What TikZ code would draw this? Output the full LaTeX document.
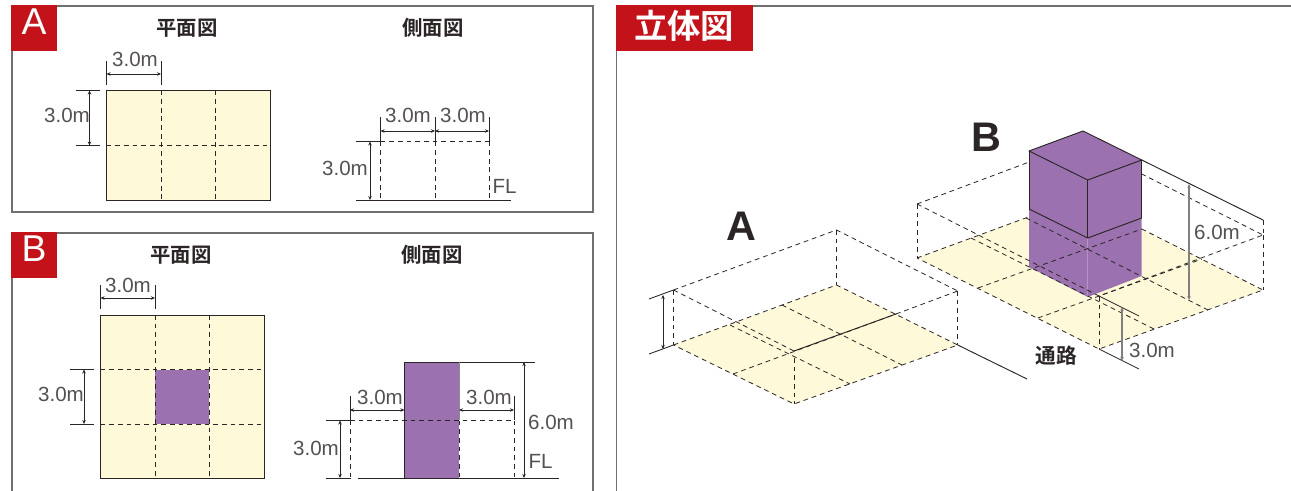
\documentclass[tikz,border=0pt]{standalone}
\usepackage{fontspec}
\setmainfont{Liberation Sans}
\newfontfamily\jpfont{Noto Sans CJK JP}[BoldFont={Noto Sans CJK JP Bold}]
\usetikzlibrary{arrows.meta}
\definecolor{tagred}{HTML}{C4121A}
\definecolor{floorcol}{HTML}{FEF9D8}
\definecolor{purp}{HTML}{9B72AF}
\definecolor{ink}{HTML}{2B2526}
\definecolor{framecol}{HTML}{707070}
\tikzset{
  frameline/.style={draw=framecol,line width=0.85pt},
  tag/.style={fill=tagred,draw=none},
  solidline/.style={draw=ink,line width=0.7pt},
  dashline/.style={draw=ink,line width=0.75pt,dash pattern=on 3.6pt off 2.9pt},
  isodash/.style={draw=ink,line width=0.6pt,dash pattern=on 3.6pt off 2.9pt},
  tick/.style={draw=ink,line width=0.65pt},
  dimarrow/.style={draw=ink,line width=0.65pt,{Stealth[length=3pt,width=2.6pt]}-{Stealth[length=3pt,width=2.6pt]}},
  greyarrow/.style={draw=black!50,line width=0.8pt,{Stealth[length=3pt,width=2.6pt]}-{Stealth[length=3pt,width=2.6pt]}},
  dimtext/.style={inner sep=0pt,text=ink!80,font=\fontsize{15.4}{16}\selectfont},
  title/.style={inner sep=0pt,text=ink,font=\jpfont\bfseries\fontsize{15.3}{16}\selectfont},
  taglabel/.style={inner sep=0pt,text=white,font=\fontsize{28}{30}\selectfont},
  isolabel/.style={inner sep=0pt,text=ink,font=\bfseries\fontsize{31}{32}\selectfont},
}
\begin{document}
\begin{tikzpicture}[x=0.75pt,y=-0.75pt]
\useasboundingbox (0,0) rectangle (1291,491);
\fill[white] (0,0) rectangle (1291,491);

% ---------- panel A ----------
\draw[frameline] (12,6) rectangle (593,212);
\fill[tag] (11,5) rectangle (57,51);
\node[taglabel] (tagA) at (34,22) {A};
\node[title] (planA) at (187,28) {平面図};
\node[title] (sideA) at (433,28) {側面図};
\fill[floorcol] (106.5,90.5) rectangle (270,200);
\draw[dashline] (161,90.5) -- (161,200) (215,90.5) -- (215,200) (106.5,145.5) -- (270,145.5);
\draw[solidline] (106.5,90.5) rectangle (270,200);
\draw[tick] (106.5,61) -- (106.5,85) (161,61) -- (161,85) (76,90.5) -- (100,90.5) (76,145.5) -- (100,145.5);
\draw[dimarrow] (106.5,74) -- (161,74);
\draw[dimarrow] (89.5,90.5) -- (89.5,145.5);
\node[dimtext] (a1) at (135,59) {3.0m};
\node[dimtext] (a2) at (67,115) {3.0m};
% side A
\draw[dashline] (380.5,141.5) -- (489,141.5) (380.5,141.5) -- (380.5,200) (435,141.5) -- (435,200) (489,141.5) -- (489,200);
\draw[tick] (356,141.5) -- (380,141.5) (356,200) -- (511,200);
\draw[tick] (380.5,117) -- (380.5,141) (435,117) -- (435,141) (489,117) -- (489,141);
\draw[dimarrow] (380.5,131) -- (435,131);
\draw[dimarrow] (435,131) -- (489,131);
\draw[dimarrow] (370,141.5) -- (370,200);
\node[dimtext] (a3) at (408,115) {3.0m};
\node[dimtext] (a4) at (463,115) {3.0m};
\node[dimtext] (a5) at (345,168) {3.0m};
\node[dimtext] (a6) at (504.5,186) {FL};

% ---------- panel B ----------
\draw[frameline] (12,491) -- (12,233) -- (593,233) -- (593,491);
\fill[tag] (11,232) rectangle (57,278);
\node[taglabel] (tagB) at (34,249) {B};
\node[title] (planB) at (181,255) {平面図};
\node[title] (sideB) at (432,255) {側面図};
\fill[floorcol] (100.5,315) rectangle (264,478);
\fill[purp] (155,369.5) rectangle (209,424);
\draw[dashline] (155,315) -- (155,478) (209,315) -- (209,478) (100.5,369.5) -- (264,369.5) (100.5,424) -- (264,424);
\draw[solidline] (100.5,315) rectangle (264,478);
\draw[tick] (100.5,285) -- (100.5,309) (155,285) -- (155,309) (70,369.5) -- (94,369.5) (70,424) -- (94,424);
\draw[dimarrow] (100.5,298) -- (155,298);
\draw[dimarrow] (84,369.5) -- (84,424);
\node[dimtext] (b1) at (128,285) {3.0m};
\node[dimtext] (b2) at (61,394) {3.0m};
% side B
\fill[purp] (404.5,362) rectangle (459,478);
\draw[dashline] (350,420.5) -- (514,420.5) (350,420.5) -- (350,478) (514,420.5) -- (514,478) (459,420.5) -- (459,478);
\draw[solidline] (404.5,478) -- (404.5,362) -- (535,362);
\draw[draw=black!45,line width=0.7pt] (459,362) -- (459,420);
\draw[tick] (326,420.5) -- (350,420.5) (326,478) -- (351,478) (358,478) -- (559,478);
\draw[tick] (350,396) -- (350,420) (514,396) -- (514,420);
\draw[dimarrow] (350,410) -- (404.5,410);
\draw[dimarrow] (459,410) -- (514,410);
\draw[dimarrow] (340,420.5) -- (340,478);
\draw[dimarrow] (524,362) -- (524,478);
\node[dimtext] (b3) at (380,397) {3.0m};
\node[dimtext] (b4) at (489,397) {3.0m};
\node[dimtext] (b5) at (316,448) {3.0m};
\node[dimtext] (b6) at (551,422) {6.0m};
\node[dimtext] (b7) at (540.5,461) {FL};

% ---------- right panel ----------
\draw[frameline] (616.5,491) -- (616.5,6) -- (1291,6);
\fill[tag] (616,5) rectangle (753,51);
\node[inner sep=0pt,text=white,font=\jpfont\bfseries\fontsize{25}{26}\selectfont] (tagC) at (684,26) {立体図};

% iso A
\coordinate (AL) at (673.5,345);
\coordinate (AB) at (836.5,285);
\coordinate (AR) at (957.7,345);
\coordinate (AF) at (794,404);
\coordinate (ALt) at (673.5,290);
\coordinate (ABt) at (836.5,230);
\coordinate (ARt) at (957.7,291);
\coordinate (AFt) at (794,351);
\fill[floorcol] (AL) -- (AB) -- (AR) -- (AF) -- cycle;
\draw[isodash] (AL) -- (AB) -- (AR) -- (AF) -- cycle;
\draw[isodash] (730,325) -- (850,384) (782,305) -- (902,365) (733,374) -- (896,314);
\draw[isodash] (ALt) -- (ABt) -- (ARt) (ALt) -- (AFt);
\draw[isodash] (ALt) -- (AL) (ABt) -- (AB) (ARt) -- (AR) (794,358) -- (AF);
\draw[isodash] (896,314) -- (ARt);
\draw[solidline] (AFt) -- (896,314);
\draw[solidline] (AR) -- (1027,379);
\draw[tick] (649,299) -- (ALt) (649,354) -- (AL);
\draw[dimarrow] (663,295) -- (663,349);
\node[isolabel] (labA) at (741,226) {A};

% iso B
\coordinate (BL) at (917,258);
\coordinate (BB) at (1080,198);
\coordinate (BR) at (1263,290);
\coordinate (BF) at (1099,349);
\coordinate (BLt) at (917,204);
\coordinate (BBt) at (1080,143);
\coordinate (BRt) at (1263,235);
\coordinate (BFt) at (1099,296);
\fill[floorcol] (BL) -- (BB) -- (BR) -- (BF) -- cycle;
\draw[isodash] (BL) -- (BB) -- (BR) -- (BF) -- cycle;
\draw[isodash] (BLt) -- (BBt) -- (BRt);
\draw[isodash] (BLt) -- (BL) (BRt) -- (BR) (BFt) -- (BF);
% cube
\fill[purp] (1029,151) -- (1083,131) -- (1141.7,160) -- (1141.7,276) -- (1087.7,297) -- (1029,267) -- cycle;
\draw[draw=white,opacity=0.25,line width=0.6pt] (1087.7,238) -- (1087.7,297);
\draw[isodash] (978,288) -- (1142,229) (1038,318) -- (1202,259) (971,238) -- (1154,329) (1026,218) -- (1208,310);
\draw[isodash] (BLt) -- (BFt) -- (BRt);
\draw[solidline,line join=round] (1029,151) -- (1083,131) -- (1141.7,160) -- (1087.7,180) -- cycle;
\draw[solidline] (1029,151) -- (1029,209);
\draw[solidline] (1087.7,180) -- (1087.7,238);
\draw[solidline] (1141.7,160) -- (1141.7,218);
\draw[solidline] (1029,209) -- (1087.7,238) -- (1141.7,218);
\draw[solidline] (1141.7,160) -- (1263,220);
\draw[isodash] (1263,220) -- (BRt);
\draw[tick] (BFt) -- (1139,316) (BF) -- (1139,369);
\draw[greyarrow] (1122,307) -- (1122,361);
\draw[greyarrow] (1189,184) -- (1189,300);
\node[dimtext] (c1) at (1217,232.5) {6.0m};
\node[dimtext] (c2) at (1152,350) {3.0m};
\node[inner sep=0pt,text=ink,font=\jpfont\bfseries\fontsize{15.5}{16}\selectfont] (road) at (1056,356) {通路};
\node[isolabel] (labB) at (986,137) {B};
\end{tikzpicture}
\end{document}
